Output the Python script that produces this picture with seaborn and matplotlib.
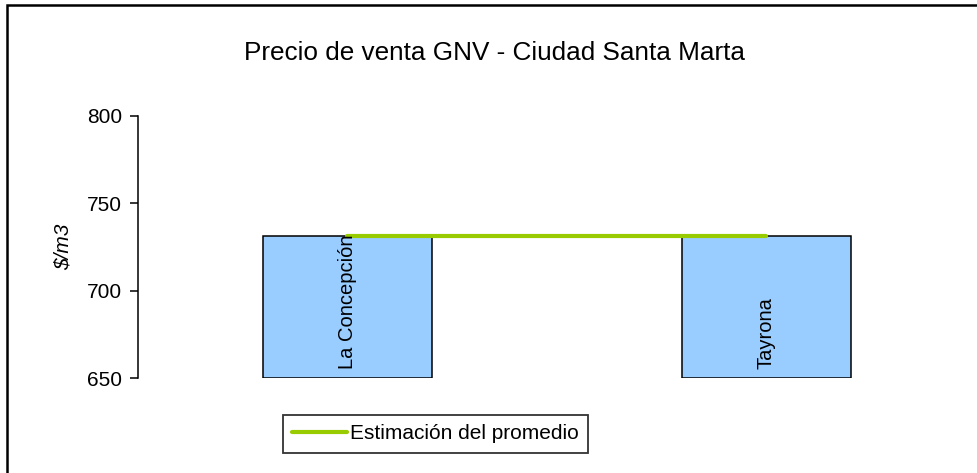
import matplotlib
matplotlib.use("Agg")
import matplotlib.pyplot as plt
import matplotlib.patches as mpatches
import seaborn as sns
import pandas as pd

sns.set_theme(style="white")
plt.rcParams["font.family"] = ["Liberation Sans", "DejaVu Sans"]
plt.rcParams["text.color"] = "black"
plt.rcParams["axes.labelcolor"] = "black"

# data
stations = ["La Concepción", "Tayrona"]
prices = [731, 731]
average_price = 731
base = 650
y_ticks = [650, 700, 750, 800]

df = pd.DataFrame({"station": stations, "price": prices})
df["height"] = df["price"] - base

fig = plt.figure(figsize=(9.78, 4.73), dpi=100)
ax = fig.add_axes([138 / 978, 1 - 378 / 473, 838 / 978, (378 - 115.7) / 473])

sns.barplot(data=df, x="station", y="height", bottom=base, color="#99CCFF",
            saturation=1, width=0.403, edgecolor="black", linewidth=1.1, ax=ax)

pos = list(range(len(stations)))
sns.lineplot(x=pos, y=[average_price] * len(pos), color="#99CC00", linewidth=3,
             label="Estimación del promedio", ax=ax)

for i, name in enumerate(stations):
    ax.text(i, base + 5, name, rotation=90, ha="center", va="bottom",
            fontsize=14.5, color="black")

ax.set_xlim(-0.5, 1.5)
ax.set_ylim(base, 800)
ax.set_yticks(y_ticks)
ax.set_xticks([])
ax.set_xlabel("")
ax.set_ylabel(r"\$/m3", fontsize=15, fontstyle="italic", labelpad=10)
ax.tick_params(axis="y", left=True, length=5.8, width=1.1, pad=5.8,
               labelsize=15, colors="black")
sns.despine(ax=ax, top=True, right=True, bottom=True)
ax.spines["left"].set_color("black")
ax.spines["left"].set_linewidth(1.1)
ax.set_facecolor("white")

fig.text(495 / 978, 1 - 53 / 473, "Precio de venta GNV - Ciudad Santa Marta",
         ha="center", va="center", fontsize=18.8, color="black")

leg = ax.legend(loc="upper left", bbox_to_anchor=(283 / 978, 1 - 415 / 473),
                bbox_transform=fig.transFigure, borderaxespad=0, fontsize=15,
                frameon=True, fancybox=False, handlelength=2.6,
                handletextpad=0.15, borderpad=0.45, labelcolor="black")
leg.get_frame().set_edgecolor("black")
leg.get_frame().set_linewidth(1.3)

fig.patches.append(mpatches.Rectangle((7 / 978, -0.5), 2, 1.5 - 5 / 473,
                                      transform=fig.transFigure, fill=False,
                                      edgecolor="black", linewidth=1.8))

fig.savefig("out.png", dpi=100)
